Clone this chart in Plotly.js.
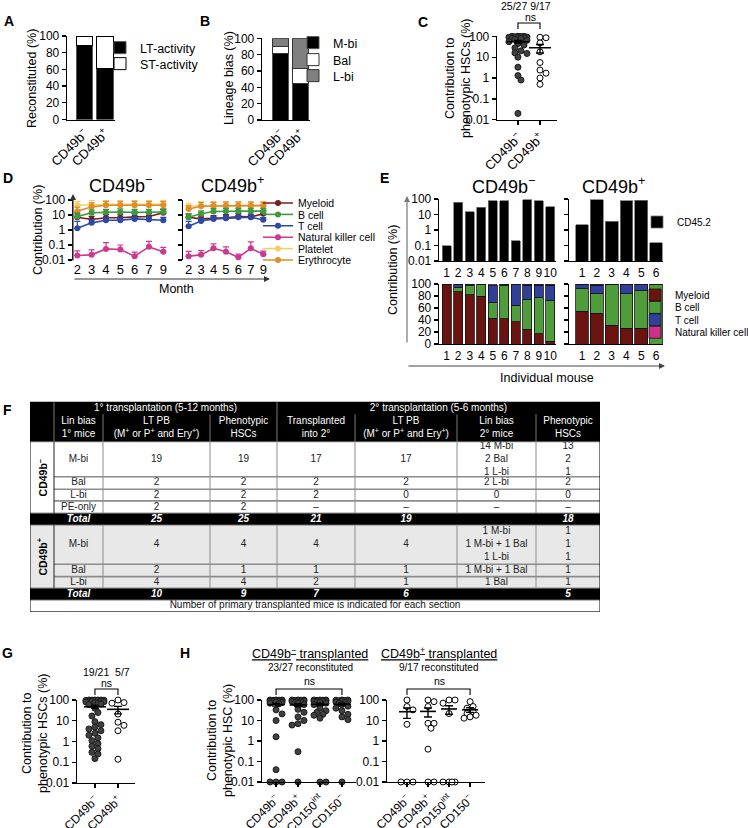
<!DOCTYPE html>
<html>
<head>
<meta charset="utf-8">
<script src="https://cdn.plot.ly/plotly-3.0.1.min.js"></script>
<style>
  html, body { margin: 0; padding: 0; background: #fff; }
  #fig { width: 748px; height: 828px; }
</style>
</head>
<body>
<div id="fig"></div>
<script>
const FONT = '"Liberation Sans", Arial, Helvetica, sans-serif';
const W = 748, H = 828;
const NEG = 'CD49b<sup>−</sup>', POS = 'CD49b<sup>+</sup>';

// A, B
const abGroups = [NEG, POS];
const ltActivity = [89, 61];
const stActivity = [11, 39];
const mBias = [82, 45];
const balBias = [8, 18];
const lBias = [10, 37];

// C: contribution to phenotypic HSCs (1st transplant)
const cNeg = [100, 100, 100, 98, 95, 92, 90, 88, 85, 80, 78, 72, 65, 55, 45, 38, 28, 20, 16, 15, 10, 3.3, 1.3, 0.8, 0.02];
const cPos = [90, 85, 48, 18, 5.5, 2.4, 1.7, 1.0, 0.5];

// D: PB contribution over months
const months = ['2', '3', '4', '5', '6', '7', '9'];
const dNames = ['Myeloid', 'B cell', 'T cell', 'Natural killer cell', 'Platelet', 'Erythrocyte'];
const dColors = ['#7b1c1c', '#3d9a3d', '#2b4aa8', '#cc3a8f', '#f3cf6a', '#e08c2a'];
const dNegVals = [
  [7, 5, 6.5, 6.5, 7.5, 8, 14],
  [8, 14, 15, 16, 15, 15, 16],
  [1.3, 3, 4.5, 4.5, 5.5, 5, 4.5],
  [0.02, 0.022, 0.055, 0.05, 0.018, 0.075, 0.035],
  [45, 50, 50, 52, 50, 52, 52],
  [18, 35, 45, 45, 45, 45, 45]
];
const dNegErr = [
  [5, 3, 4, 4, 5, 5, 10],
  [6, 8, 9, 10, 9, 9, 10],
  [2.5, 2, 2.5, 2.5, 3, 3, 2.5],
  [0.02, 0.025, 0.09, 0.05, 0.015, 0.1, 0.035],
  [35, 45, 45, 45, 45, 45, 45],
  [15, 30, 35, 35, 35, 35, 35]
];
const dPosVals = [
  [7, 5.5, 6, 6.5, 8, 7.5, 12],
  [7, 12, 17, 18, 18, 18, 18],
  [1.8, 4, 5.5, 6, 7, 7, 4.8],
  [0.018, 0.022, 0.06, 0.035, 0.015, 0.06, 0.024],
  [38, 42, 42, 42, 42, 42, 42],
  [25, 38, 40, 42, 42, 42, 42]
];
const dPosErr = [
  [5, 3, 3, 4, 5, 4, 8],
  [5, 7, 10, 10, 10, 10, 10],
  [2, 2, 2.5, 3, 3, 3, 2],
  [0.02, 0.02, 0.06, 0.04, 0.01, 0.1, 0.015],
  [25, 35, 35, 35, 35, 35, 35],
  [15, 30, 30, 30, 30, 30, 30]
];

// E: individual mice
const eMiceNeg = ['1', '2', '3', '4', '5', '6', '7', '8', '9', '10'];
const eMicePos = ['1', '2', '3', '4', '5', '6'];
const eCd45Neg = [0.1, 60, 15, 30, 80, 75, 0.2, 90, 80, 32];
const eCd45Pos = [2.2, 90, 3.8, 75, 85, 0.15];
const eNames = ['Myeloid', 'B cell', 'T cell', 'Natural killer cell'];
const eColors = ['#6a1412', '#4f9c3a', '#2f3f9a', '#cf2f8f'];
const eNegShares = [
  [100, 87, 82, 80, 43, 42, 37, 25, 17, 5],
  [0, 8, 15, 19, 26, 55, 28, 50, 60, 67],
  [0, 4, 2, 1, 28, 2, 34, 23, 21, 26],
  [0, 1, 1, 0, 2, 1, 1, 2, 2, 2]
];
const ePosShares = [
  [55, 51, 31, 26, 26, 0],
  [37, 34, 69, 58, 63, 100],
  [8, 13, 0, 15, 10, 0],
  [0, 2, 0, 1, 1, 0]
];

// F: table
const tblHead1 = ['1° transplantation (5-12 months)', '2° transplantation (5-6 months)'];
const tblHead2 = ['Lin bias<br>1° mice', 'LT PB<br>(M<sup>+</sup> or P<sup>+</sup> and Ery<sup>+</sup>)', 'Phenotypic<br>HSCs',
  'Transplanted<br>into 2°', 'LT PB<br>(M<sup>+</sup> or P<sup>+</sup> and Ery<sup>+</sup>)', 'Lin bias<br>2° mice', 'Phenotypic<br>HSCs'];
const tblNegRows = [
  ['M-bi', '19', '19', '17', '17', '14 M-bi<br>2 Bal<br>1 L-bi', '13<br>2<br>1'],
  ['Bal', '2', '2', '2', '2', '2 L-bi', '2'],
  ['L-bi', '2', '2', '2', '0', '0', '0'],
  ['PE-only', '2', '2', '–', '–', '–', '–']
];
const tblNegTotal = ['Total', '25', '25', '21', '19', '', '18'];
const tblPosRows = [
  ['M-bi', '4', '4', '4', '4', '1 M-bi<br>1 M-bi + 1 Bal<br>1 L-bi', '1<br>1<br>1'],
  ['Bal', '2', '1', '1', '1', '1 M-bi + 1 Bal', '1'],
  ['L-bi', '4', '4', '2', '1', '1 Bal', '1']
];
const tblPosTotal = ['Total', '10', '9', '7', '6', '', '5'];
const tblFooter = 'Number of primary transplanted mice is indicated for each section';

// G: 2nd transplant
const gNeg = [100, 100, 100, 100, 99, 98, 96, 95, 93, 90, 88, 85, 82, 80, 75, 70, 65, 60,
  40, 25, 17, 9, 6.5, 5, 4, 3.3, 2.5, 2, 1.5, 1.1, 0.8, 0.6, 0.45, 0.3, 0.25, 0.15];
const gPos = [100, 75, 70, 21, 8.5, 6, 3.3, 0.14];

// H: contribution by fraction
const hGroups = ['CD49b<sup>−</sup>', 'CD49b<sup>+</sup>', 'CD150<sup>int</sup>', 'CD150<sup>−</sup>'];
const hNegTx = [
  [100, 100, 100, 98, 96, 95, 92, 90, 88, 85, 80, 75, 70, 65, 33, 21, 10, 1.6, 0.04, 0.01, 0.01, 0.01],
  [100, 100, 100, 98, 95, 92, 90, 85, 80, 75, 70, 60, 35, 25, 15, 10, 7, 6, 0.3, 0.01],
  [100, 100, 100, 98, 95, 92, 90, 88, 85, 80, 75, 70, 60, 40, 30, 25, 20, 18, 13, 0.01, 0.01],
  [100, 100, 98, 95, 92, 90, 85, 80, 75, 70, 60, 50, 40, 30, 20, 15, 11, 0.01]
];
const hPosTx = [
  [100, 48, 33, 6.5, 0.01, 0.01, 0.01],
  [100, 83, 48, 7.3, 7.3, 4.2, 0.4, 0.01, 0.01],
  [100, 100, 70, 22, 0.01, 0.01, 0.01, 0.01],
  [83, 48, 40, 27, 22, 18, 15, 13]
];

// ---------------------------------------------------------------
const layout = {
  width: W, height: H,
  margin: {l: 0, r: 0, t: 0, b: 0, autoexpand: false},
  paper_bgcolor: '#fff',
  plot_bgcolor: 'rgba(0,0,0,0)',
  font: {family: FONT, size: 12, color: '#000'},
  barmode: 'stack',
  showlegend: true,
  annotations: [],
  shapes: []
};
const traces = [];

function ax(n) { return n === 1 ? '' : String(n); }
const AX = {
  showgrid: false, zeroline: false, showline: true, linecolor: '#000', linewidth: 1.3,
  ticks: 'outside', ticklen: 4, tickwidth: 1.3, tickcolor: '#000',
  tickfont: {size: 12, color: '#000'}, fixedrange: true
};
const LOGY = {type: 'log', range: [-2, 2], tickvals: [0.01, 0.1, 1, 10, 100], ticktext: ['0.01', '0.1', '1', '10', '100']};
const ROT = {tickangle: -45, tickfont: {size: 13, color: '#000'}};
const ROT_LOW = {tickangle: -45, tickfont: {size: 12, color: '#000'}};

function setAxes(n, xPx, yPx, xo, yo) {
  layout['xaxis' + ax(n)] = Object.assign({}, AX, {domain: [xPx[0] / W, xPx[1] / W], anchor: 'y' + ax(n)}, xo);
  layout['yaxis' + ax(n)] = Object.assign({}, AX, {domain: [1 - yPx[1] / H, 1 - yPx[0] / H], anchor: 'x' + ax(n)}, yo);
}
function note(text, xPx, yPx, o) {
  layout.annotations.push(Object.assign({
    text: text, x: xPx / W, y: 1 - yPx / H, xref: 'paper', yref: 'paper',
    showarrow: false, xanchor: 'center', yanchor: 'middle', font: {size: 12}
  }, o || {}));
}
function arrow(x0, y0, x1, y1, color) {
  layout.annotations.push({
    x: x1 / W, y: 1 - y1 / H, xref: 'paper', yref: 'paper', ax: x0 - x1, ay: y0 - y1,
    axref: 'pixel', ayref: 'pixel', text: '', showarrow: true, arrowhead: 2,
    arrowsize: 1, arrowwidth: 1.2, arrowcolor: color
  });
}
let legCount = 0;
function legendAt(textX, yPx, size) {
  legCount++;
  const key = legCount === 1 ? 'legend' : 'legend' + legCount;
  layout[key] = {
    x: (textX - 40) / W, y: 1 - yPx / H, xanchor: 'left', yanchor: 'middle',
    bgcolor: 'rgba(0,0,0,0)', borderwidth: 0, font: {size: size, color: '#000'}
  };
  return key;
}
function bracket(axis, g0, g1, yTop, yBot) {
  const yt = 1 - yTop / H, yb = 1 - yBot / H;
  layout.shapes.push({
    type: 'path', xref: axis, yref: 'paper',
    path: `M ${g0},${yb} L ${g0},${yt} L ${g1},${yt} L ${g1},${yb}`,
    line: {color: '#000', width: 1.1}
  });
}

// bee-swarm offsets, in pixels converted back to axis units
function swarm(vals, ux, uy, d, maxOff) {
  const order = vals.map((v, i) => i).sort((a, b) => vals[b] - vals[a]);
  const placed = [];
  const off = new Array(vals.length).fill(0);
  const step = d * 0.5;
  const nTry = 2 * Math.floor(maxOff / step);
  order.forEach(i => {
    const py = Math.log10(vals[i]) * uy;
    let best = 0, bestScore = -1;
    for (let k = 0; k <= nTry; k++) {
      const px = Math.ceil(k / 2) * step * (k % 2 ? 1 : -1);
      let minD = Infinity;
      placed.forEach(p => { minD = Math.min(minD, Math.hypot(p[0] - px, p[1] - py)); });
      if (minD >= d * 0.85) { best = px; break; }
      if (minD > bestScore) { bestScore = minD; best = px; }
    }
    placed.push([best, py]);
    off[i] = best / ux;
  });
  return off;
}

function dotGroup(vals, g, n, filled, ux, uy, halfMean, maxOff) {
  const off = swarm(vals, ux, uy, 6, maxOff);
  const m = vals.length;
  const mean = vals.reduce((a, b) => a + b, 0) / m;
  const sd = Math.sqrt(vals.reduce((a, b) => a + (b - mean) ** 2, 0) / (m - 1));
  const sem = sd / Math.sqrt(m);
  const xa = 'x' + ax(n), ya = 'y' + ax(n);
  traces.push({
    type: 'scatter', mode: 'markers', x: off.map(o => g + o), y: vals, xaxis: xa, yaxis: ya,
    cliponaxis: false, showlegend: false, hoverinfo: 'skip',
    marker: {size: 6, color: filled ? '#404040' : '#fff', line: {color: filled ? '#1a1a1a' : '#000', width: 1}}
  });
  traces.push({
    type: 'scatter', mode: 'lines', x: [g - halfMean, g + halfMean], y: [mean, mean], xaxis: xa, yaxis: ya,
    cliponaxis: false, showlegend: false, hoverinfo: 'skip', line: {color: '#000', width: 1.6}
  });
  traces.push({
    type: 'scatter', mode: 'markers', x: [g], y: [mean], xaxis: xa, yaxis: ya,
    cliponaxis: false, showlegend: false, hoverinfo: 'skip', marker: {size: 1, opacity: 0},
    error_y: {type: 'data', array: [sem], visible: true, color: '#000', thickness: 1.4, width: 4}
  });
}

// ---------------- A ----------------
setAxes(1, [67, 115], [36, 119.5],
  Object.assign({type: 'category', range: [-0.85, 1.49], ticks: ''}, ROT),
  {range: [0, 100], dtick: 20});
const legA1 = legendAt(140, 48, 12.5), legA2 = legendAt(140, 64, 12.5);
traces.push({type: 'bar', x: abGroups, y: ltActivity, name: 'LT-activity', legend: legA1, width: 0.82,
  marker: {color: '#000', line: {color: '#555', width: 1}}});
traces.push({type: 'bar', x: abGroups, y: stActivity, name: 'ST-activity', legend: legA2, width: 0.82,
  marker: {color: '#fff', line: {color: '#000', width: 1}}});
note('Reconstituted (%)', 32, 78, {textangle: -90, font: {size: 12.5}});

// ---------------- B ----------------
setAxes(2, [262, 310], [38.3, 120],
  Object.assign({type: 'category', range: [-0.95, 1.47], ticks: ''}, ROT),
  {range: [0, 100], dtick: 20});
const bNames = ['M-bi', 'Bal', 'L-bi'];
const bVals = [mBias, balBias, lBias];
const bFill = ['#000', '#fff', '#808080'];
[43, 60, 76].forEach((yy, i) => {
  traces.push({type: 'bar', x: abGroups, y: bVals[i], name: bNames[i], legend: legendAt(333, yy, 12.5),
    xaxis: 'x2', yaxis: 'y2', width: 0.82,
    marker: {color: bFill[i], line: {color: i === 0 ? '#555' : '#333', width: 1}}});
});
note('Lineage bias (%)', 229, 78, {textangle: -90, font: {size: 12.5}});

// ---------------- C ----------------
setAxes(3, [497, 557], [36.3, 119.7],
  Object.assign({range: [-0.95, 1.77], tickvals: [0, 1], ticktext: abGroups}, ROT),
  LOGY);
dotGroup(cNeg, 0, 3, true, 22, 21, 0.5, 11);
dotGroup(cPos, 1, 3, false, 22, 21, 0.5, 9);
note('Contribution to<br>phenotypic HSCs (%)', 458, 78, {textangle: -90, font: {size: 12.5}});
note('25/27 9/17', 526, 6, {font: {size: 10.5}});
note('ns', 530, 17, {font: {size: 10.5}});
bracket('x3', 0, 1, 23, 29);

// ---------------- D ----------------
const monthAxis = {type: 'category', showline: false, ticks: '', tickangle: 0, tickfont: {size: 13, color: '#000'},
  tickmode: 'array', tickvals: months, ticktext: months};
setAxes(4, [73, 167], [200, 260], Object.assign({range: [-0.3, 6.26]}, monthAxis), LOGY);
setAxes(5, [183, 267], [200, 260], Object.assign({range: [-0.45, 6.3]}, monthAxis),
  Object.assign({}, LOGY, {showticklabels: false}));
const dLeg = dNames.map((nm, i) => legendAt(298, 203 + 11.4 * i, 10.5));
const dDraw = [4, 5, 0, 1, 2, 3];
dDraw.forEach(i => {
  [[4, dNegVals, dNegErr], [5, dPosVals, dPosErr]].forEach(([n, vals, errs]) => {
    traces.push({
      type: 'scatter', mode: 'lines+markers', x: months, y: vals[i], name: dNames[i],
      xaxis: 'x' + n, yaxis: 'y' + n, legend: dLeg[i], showlegend: n === 4, cliponaxis: false,
      line: {color: dColors[i], width: 1.6}, marker: {color: dColors[i], size: 6},
      error_y: {type: 'data', symmetric: false, array: errs[i], arrayminus: errs[i].map(() => 0),
        color: dColors[i], thickness: 1.2, width: 3}
    });
  });
});
note('CD49b<sup>−</sup>', 120, 184, {font: {size: 18}});
note('CD49b<sup>+</sup>', 232, 184, {font: {size: 18}});
note('Contribution (%)', 38, 230, {textangle: -90, font: {size: 12.5}});
note('Month', 176, 289, {font: {size: 12.5}});
arrow(73, 262, 73, 194, '#333');
arrow(73, 279, 270, 279, '#333');

// ---------------- E ----------------
const miceNegAxis = {type: 'category', range: [-0.67, 9.5], ticks: '', tickangle: 0, tickmode: 'array', tickvals: eMiceNeg, ticktext: eMiceNeg};
const micePosAxis = {type: 'category', range: [-0.88, 5.47], ticks: '', tickangle: 0, tickmode: 'array', tickvals: eMicePos, ticktext: eMicePos};
setAxes(6, [439, 556], [199, 261], miceNegAxis, LOGY);
setAxes(7, [569, 663], [199, 261], micePosAxis, Object.assign({}, LOGY, {showticklabels: false}));
setAxes(8, [439, 556], [284, 344], miceNegAxis, {range: [0, 100], dtick: 20});
setAxes(9, [569, 663], [284, 344], micePosAxis, {range: [0, 100], dtick: 20, showticklabels: false});
const eLegTop = legendAt(677, 222, 10);
traces.push({type: 'bar', x: eMiceNeg, y: eCd45Neg, name: 'CD45.2', xaxis: 'x6', yaxis: 'y6', legend: eLegTop,
  width: 0.8, marker: {color: '#000', line: {color: '#777', width: 0.8}}});
traces.push({type: 'bar', x: eMicePos, y: eCd45Pos, name: 'CD45.2', xaxis: 'x7', yaxis: 'y7', showlegend: false,
  width: 0.87, marker: {color: '#000', line: {color: '#777', width: 0.8}}});
eNames.forEach((nm, i) => {
  const lg = legendAt(675, 295 + 12.4 * i, 10);
  traces.push({type: 'bar', x: eMiceNeg, y: eNegShares[i], name: nm, xaxis: 'x8', yaxis: 'y8', legend: lg,
    width: 0.8, marker: {color: eColors[i], line: {color: '#111', width: 0.8}}});
  traces.push({type: 'bar', x: eMicePos, y: ePosShares[i], name: nm, xaxis: 'x9', yaxis: 'y9', showlegend: false,
    width: 0.87, marker: {color: eColors[i], line: {color: '#111', width: 0.8}}});
});
note('CD49b<sup>−</sup>', 503, 185, {font: {size: 18}});
note('CD49b<sup>+</sup>', 613, 185, {font: {size: 18}});
note('Contribution (%)', 393, 270, {textangle: -90, font: {size: 12.5}});
note('Individual mouse', 547, 378, {font: {size: 12.5}});
arrow(407, 344, 407, 196, '#777');
arrow(407, 366, 665, 366, '#444');

// ---------------- F (table) ----------------
const tblColX = [30, 54, 103, 210, 277, 355, 457, 536, 600];
const tblRowH = [12.6, 27.4, 35, 12.5, 11.7, 12.3, 11.7, 39.3, 12.4, 11.6, 11.7, 11.8];
const tblTop = 401.7;
const rowY = [tblTop];
tblRowH.forEach(h => rowY.push(rowY[rowY.length - 1] + h));
const tblBottom = rowY[rowY.length - 1];
layout.xaxis10 = {domain: [30 / W, 600 / W], range: [30, 600], visible: false, fixedrange: true, anchor: 'y10'};
layout.yaxis10 = {domain: [1 - tblBottom / H, 1 - tblTop / H], range: [tblBottom, tblTop], visible: false, fixedrange: true, anchor: 'x10'};
function cellRect(x0, x1, r0, r1, fill) {
  layout.shapes.push({type: 'rect', xref: 'x10', yref: 'y10', x0: x0, x1: x1, y0: rowY[r0], y1: rowY[r1],
    fillcolor: fill, line: {width: 0}, layer: 'below'});
}
function tLine(x0, y0, x1, y1, color, w) {
  layout.shapes.push({type: 'line', xref: 'x10', yref: 'y10', x0: x0, y0: y0, x1: x1, y1: y1,
    line: {color: color, width: w}});
}
cellRect(30, 600, 0, 2, '#000');
cellRect(30, 600, 6, 7, '#000');
cellRect(30, 600, 7, 10, '#e8e8e8');
cellRect(30, 600, 10, 11, '#000');
[3, 4, 5, 8, 9].forEach(r => tLine(54, rowY[r], 600, rowY[r], '#8c8c8c', 1.6));
[2, 6, 7, 10, 11].forEach(r => tLine(30, rowY[r], 600, rowY[r], '#555', 1));
[[2, 6], [7, 10]].forEach(([r0, r1]) => {
  tLine(54, rowY[r0], 54, rowY[r1], '#222', 1);
  tblColX.slice(2, 8).forEach(x => tLine(x, rowY[r0], x, rowY[r1], '#8c8c8c', 1));
});
tblColX.slice(1, 8).forEach(x => tLine(x, rowY[1], x, rowY[2], '#9a9a9a', 0.8));
[54, 277].forEach(x => tLine(x, rowY[0], x, rowY[1], '#9a9a9a', 0.8));
layout.shapes.push({type: 'rect', xref: 'x10', yref: 'y10', x0: 30, x1: 600, y0: tblTop, y1: tblBottom,
  line: {color: '#000', width: 1}});

const tx = [], ty = [], tt = [], tc = [];
function cell(x, y, t, c) { if (!t) return; tx.push(x); ty.push(y); tt.push(t); tc.push(c); }
const colMid = i => (tblColX[i + 1] + tblColX[i + 2]) / 2;
const rowMid = r => (rowY[r] + rowY[r + 1]) / 2;
cell((54 + 277) / 2, rowMid(0), tblHead1[0], '#fff');
cell((277 + 600) / 2, rowMid(0), tblHead1[1], '#fff');
tblHead2.forEach((t, i) => cell(colMid(i), rowMid(1), t, '#fff'));
tblNegRows.forEach((row, r) => row.forEach((t, i) => cell(colMid(i), rowMid(2 + r), t, '#222')));
tblNegTotal.forEach((t, i) => cell(colMid(i), rowMid(6), t && '<b><i>' + t + '</i></b>', '#fff'));
tblPosRows.forEach((row, r) => row.forEach((t, i) => cell(colMid(i), rowMid(7 + r), t, '#222')));
tblPosTotal.forEach((t, i) => cell(colMid(i), rowMid(10), t && '<b><i>' + t + '</i></b>', '#fff'));
cell(315, rowMid(11), tblFooter, '#111');
traces.push({type: 'scatter', mode: 'text', x: tx, y: ty, text: tt, xaxis: 'x10', yaxis: 'y10',
  textposition: 'middle center', textfont: {size: 10, color: tc}, showlegend: false, hoverinfo: 'skip', cliponaxis: false});
layout.annotations.push({text: '<b>CD49b<sup>−</sup></b>', xref: 'x10', yref: 'y10', x: 42, y: (rowY[2] + rowY[6]) / 2,
  textangle: -90, showarrow: false, font: {size: 10.5}});
layout.annotations.push({text: '<b>CD49b<sup>+</sup></b>', xref: 'x10', yref: 'y10', x: 42, y: (rowY[7] + rowY[10]) / 2,
  textangle: -90, showarrow: false, font: {size: 10.5}});

// ---------------- G ----------------
setAxes(11, [77, 135], [700, 783],
  Object.assign({range: [-0.78, 1.74], tickvals: [0, 1], ticktext: abGroups}, ROT_LOW),
  LOGY);
dotGroup(gNeg, 0, 11, true, 23, 20.75, 0.48, 11);
dotGroup(gPos, 1, 11, false, 23, 20.75, 0.48, 9);
note('Contribution to<br>phenotypic HSCs (%)', 35, 733, {textangle: -90, font: {size: 12.5}});
note('19/21  5/7', 106, 672, {font: {size: 10.5}});
note('ns', 107, 683, {font: {size: 10.5}});
bracket('x11', 0, 1, 689, 695);

// ---------------- H ----------------
setAxes(12, [262, 356], [700, 782],
  Object.assign({range: [-0.64, 3.64], tickvals: [0, 1, 2, 3], ticktext: hGroups}, ROT_LOW),
  LOGY);
setAxes(13, [387, 485], [700, 782],
  Object.assign({range: [-0.95, 3.71], tickvals: [0, 1, 2, 3], ticktext: hGroups}, ROT_LOW),
  LOGY);
hNegTx.forEach((v, g) => dotGroup(v, g, 12, true, 22, 20.5, 0.38, 8));
hPosTx.forEach((v, g) => dotGroup(v, g, 13, false, 21, 20.5, 0.38, 8));
note('Contribution to<br>phenotypic HSC (%)', 220, 741, {textangle: -90, font: {size: 12.5}});
note('<u>CD49b<sup>−</sup> transplanted</u>', 310, 653, {font: {size: 12.5}});
note('23/27 reconstituted', 310, 667, {font: {size: 10}});
note('<u>CD49b<sup>+</sup> transplanted</u>', 439, 653, {font: {size: 12.5}});
note('9/17 reconstituted', 439, 667, {font: {size: 10}});
note('ns', 309, 681, {font: {size: 10.5}});
note('ns', 439, 681, {font: {size: 10.5}});
bracket('x12', 0, 3, 689, 695);
bracket('x13', 0, 3, 689, 695);

// panel letters
[['A', 9, 21], ['B', 205, 21], ['C', 423, 22], ['D', 8, 178], ['E', 384, 178],
 ['F', 8, 410], ['G', 8, 653], ['H', 185, 653]].forEach(([t, x, y]) =>
  note('<b>' + t + '</b>', x, y, {font: {size: 14}}));

Plotly.newPlot('fig', traces, layout, {staticPlot: true, displayModeBar: false});
</script>
</body>
</html>
